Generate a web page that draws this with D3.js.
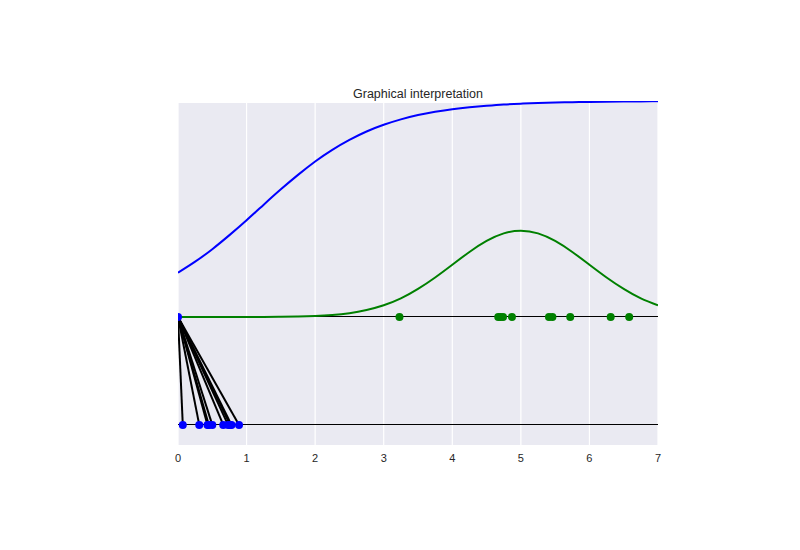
<!DOCTYPE html>
<html>
<head>
<meta charset="utf-8">
<script src="https://cdn.jsdelivr.net/npm/d3@7"></script>
<style>
  body { margin: 0; background: #fff; }
  text { font-family: "Liberation Sans", Arial, sans-serif; fill: #262626; }
</style>
</head>
<body>
<div id="chart"></div>
<script>
// curve samples (x step 0.25)
const curveX = d3.range(0, 7.001, 0.25);
const cdfValues = [0.205, 0.256, 0.314, 0.379, 0.448, 0.520, 0.591, 0.658, 0.720, 0.774, 0.820, 0.859, 0.890,
    0.915, 0.935, 0.950, 0.962, 0.971, 0.978, 0.984, 0.988, 0.991, 0.993, 0.995, 0.996, 0.997, 0.998, 0.998, 0.999];
const pdfValues = [0, 0, 0, 0, 0, 0.0004, 0.0009, 0.002, 0.0044, 0.009, 0.0175, 0.032, 0.054,
    0.086, 0.130, 0.183, 0.242, 0.301, 0.352, 0.387, 0.399, 0.387, 0.352, 0.301, 0.242, 0.183, 0.130, 0.086, 0.054];

// samples on the x line (y = 0) and on the u line (y = -0.5)
const greenPoints = [3.23, 4.67, 4.70, 4.74, 4.87, 5.41, 5.46, 5.72, 6.31, 6.58];
const bluePoints = [0.07, 0.31, 0.43, 0.45, 0.50, 0.66, 0.73, 0.76, 0.78, 0.89];

const xTicks = [0, 1, 2, 3, 4, 5, 6, 7];
const yLimits = [-0.593, 0.991];

const width = 800;
const height = 550;
const margin = { left: 178, right: 142, top: 103, bottom: 105 };

const svg = d3.select("#chart")
    .append("svg")
    .attr("width", width)
    .attr("height", height);

const x = d3.scaleLinear().domain([0, 7]).range([margin.left, width - margin.right]);
const y = d3.scaleLinear().domain(yLimits).range([height - margin.bottom, margin.top]);

const plotTop = y(yLimits[1]);
const plotBottom = y(yLimits[0]);

// plot background
svg.append("rect")
    .attr("x", x(0))
    .attr("y", plotTop)
    .attr("width", x(7) - x(0))
    .attr("height", plotBottom - plotTop)
    .attr("fill", "#EAEAF2");

// vertical grid
svg.selectAll("line.grid")
    .data(xTicks)
    .enter()
    .append("line")
    .attr("class", "grid")
    .attr("x1", d => x(d))
    .attr("x2", d => x(d))
    .attr("y1", plotTop)
    .attr("y2", plotBottom)
    .attr("stroke", "#fff")
    .attr("stroke-width", 1.2);

const plot = svg.append("g");
plot.append("clipPath").attr("id", "clip")
    .append("rect")
    .attr("x", x(0)).attr("y", plotTop - 2)
    .attr("width", x(7) - x(0)).attr("height", plotBottom - plotTop + 2);
const inner = plot.append("g").attr("clip-path", "url(#clip)");

// horizontal reference lines
inner.selectAll("line.base")
    .data([0, -0.5])
    .enter()
    .append("line")
    .attr("x1", x(0))
    .attr("x2", x(7))
    .attr("y1", d => y(d))
    .attr("y2", d => y(d))
    .attr("stroke", "#000")
    .attr("stroke-width", 1)
    .attr("shape-rendering", "crispEdges");

const line = d3.line()
    .x(d => x(d[0]))
    .y(d => y(d[1]))
    .curve(d3.curveNatural);

// cdf (blue)
inner.append("path")
    .datum(curveX.map((d, i) => [d, cdfValues[i]]))
    .attr("d", line)
    .attr("fill", "none")
    .attr("stroke", "#0000ff")
    .attr("stroke-width", 2);

// pdf (green)
inner.append("path")
    .datum(curveX.map((d, i) => [d, pdfValues[i]]))
    .attr("d", line)
    .attr("fill", "none")
    .attr("stroke", "#008000")
    .attr("stroke-width", 2);

// connectors from origin
inner.selectAll("line.link")
    .data(bluePoints)
    .enter()
    .append("line")
    .attr("x1", x(0))
    .attr("y1", y(0))
    .attr("x2", d => x(d))
    .attr("y2", y(-0.5))
    .attr("stroke", "#000")
    .attr("stroke-width", 2);

inner.selectAll("circle.g")
    .data(greenPoints)
    .enter()
    .append("circle")
    .attr("cx", d => x(d))
    .attr("cy", y(0))
    .attr("r", 4)
    .attr("fill", "#008000");

inner.selectAll("circle.b")
    .data(bluePoints)
    .enter()
    .append("circle")
    .attr("cx", d => x(d))
    .attr("cy", y(-0.5))
    .attr("r", 4)
    .attr("fill", "#0000ff");

// blue marker at origin
inner.append("circle")
    .attr("cx", x(0))
    .attr("cy", y(0))
    .attr("r", 4)
    .attr("fill", "#0000ff");

// x tick labels
svg.selectAll("text.tick")
    .data(xTicks)
    .enter()
    .append("text")
    .attr("x", d => x(d))
    .attr("y", plotBottom + 17)
    .attr("text-anchor", "middle")
    .attr("font-size", 11)
    .text(d => d);

svg.append("text")
    .attr("x", (x(0) + x(7)) / 2)
    .attr("y", plotTop - 5)
    .attr("text-anchor", "middle")
    .attr("font-size", 12.5)
    .text("Graphical interpretation");
</script>
</body>
</html>
